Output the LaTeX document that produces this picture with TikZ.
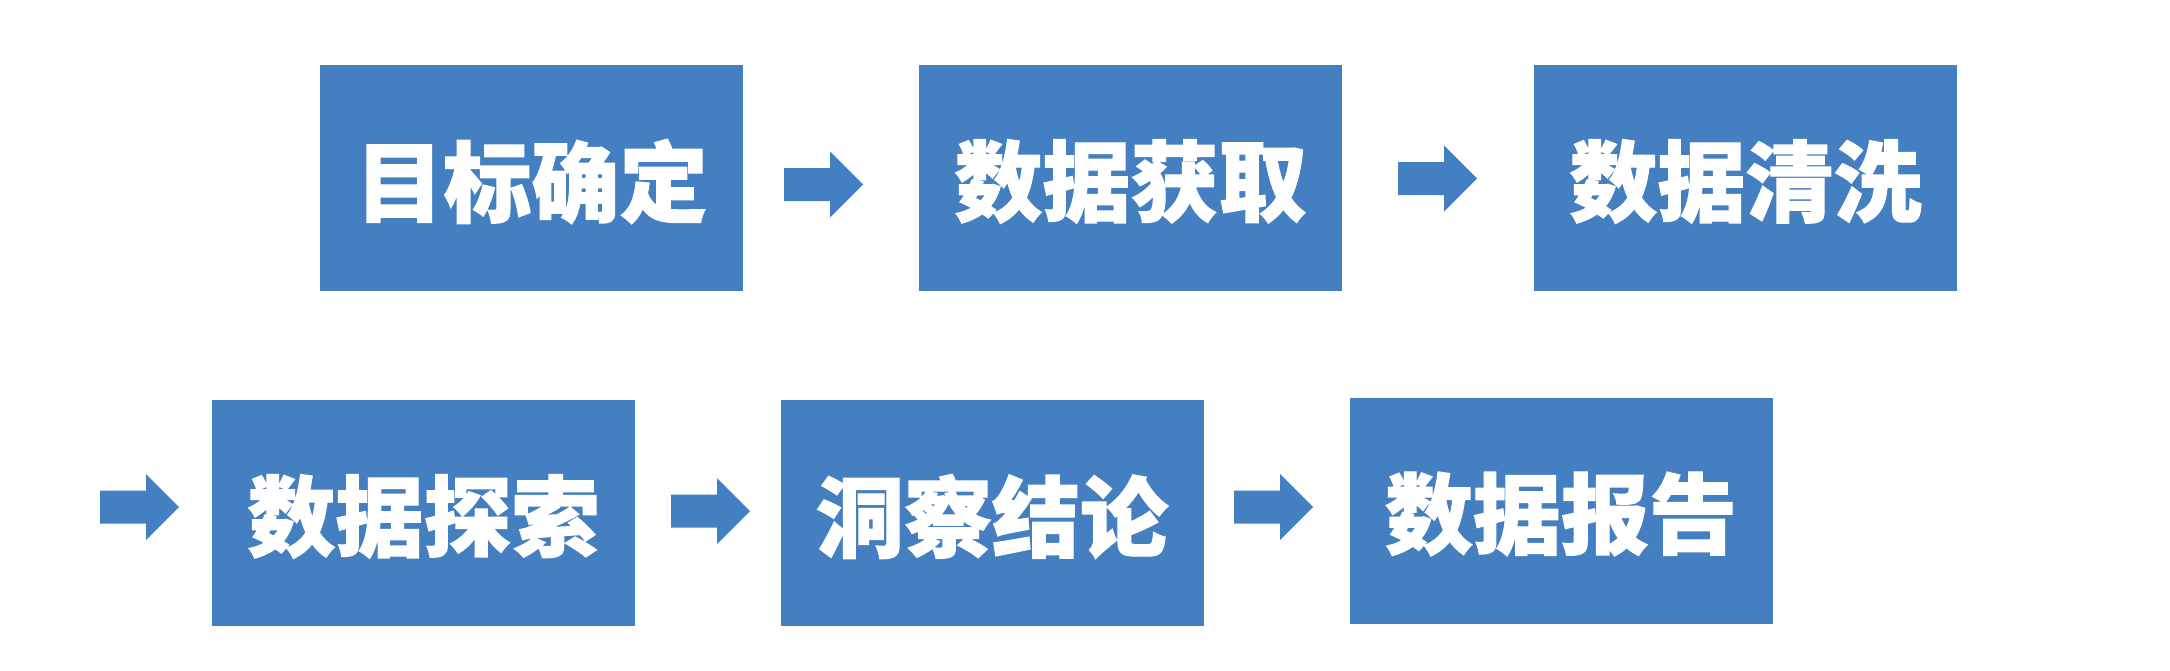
\documentclass[tikz,border=0pt]{standalone}
\usepackage{fontspec}
\newfontfamily\cjk[BoldFeatures={FakeBold=1.3}]{Noto Sans CJK SC}
\definecolor{boxblue}{RGB}{68,128,193}
\newcommand{\boxtext}[1]{\raisebox{-1.75pt}[\height][\depth]{#1}}
\tikzset{
  stepbox/.style={fill=boxblue, draw=none, inner sep=0pt, text=white,
    minimum width=211.5pt, minimum height=113pt,
    font=\cjk\bfseries\fontsize{44}{44}\selectfont},
  blockarrow/.style={fill=boxblue, draw=none}
}
\newcommand{\blockarr}[3]{% tail x, center y, name
  \fill[blockarrow] (#1,#2-16.5) -- (#1+46,#2-16.5) -- (#1+46,#2-33) -- (#1+79,#2) -- (#1+46,#2+33) -- (#1+46,#2+16.5) -- (#1,#2+16.5) -- cycle;
  \coordinate (#3) at (#1+39.5,#2);
}
\begin{document}
\begin{tikzpicture}[x=0.5pt,y=-0.5pt]
\useasboundingbox (0,0) rectangle (2170,670);
\node[stepbox] (b1) at (531.5,178) {\boxtext{目标确定}};
\node[stepbox] (b2) at (1130.5,178) {\boxtext{数据获取}};
\node[stepbox] (b3) at (1745.5,178) {\boxtext{数据清洗}};
\node[stepbox] (b4) at (423.5,513) {\boxtext{数据探索}};
\node[stepbox] (b5) at (992,513) {\boxtext{洞察结论}};
\node[stepbox] (b6) at (1561,510.5) {\boxtext{数据报告}};
\blockarr{784}{184.5}{a1}
\blockarr{1398}{178.5}{a2}
\blockarr{100}{507}{a0}
\blockarr{671}{511}{a3}
\blockarr{1234}{507}{a4}
\end{tikzpicture}
\end{document}
